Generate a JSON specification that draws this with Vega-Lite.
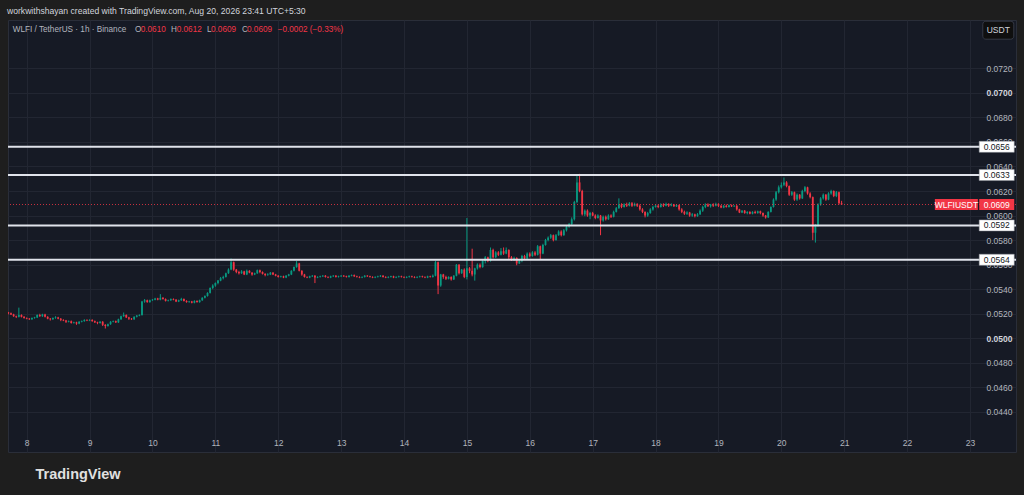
{
  "$schema": "https://vega.github.io/schema/vega-lite/v6.json",
  "width": 1008,
  "height": 432,
  "autosize": {"type": "none"},
  "padding": {"left": 8, "top": 20, "right": 8, "bottom": 43},
  "background": "#1e1e1e",
  "config": {
    "font": "Liberation Sans",
    "view": {"fill": "#161a25", "stroke": "#2a2e39"},
    "axis": {"labelFont": "Liberation Sans", "titleFont": "Liberation Sans"}
  },
  "title": {
    "text": "workwithshayan created with TradingView.com, Aug 20, 2026 23:41 UTC+5:30",
    "anchor": "start",
    "fontSize": 8.6,
    "fontWeight": "normal",
    "color": "#d1d4dc",
    "offset": 4
  },
  "resolve": {"axis": {"y": "independent"}},
  "datasets": {
    "candles": [
      {"t":-7,"o":0.0521,"h":0.05215,"l":0.05195,"c":0.05205},
      {"t":-6,"o":0.05205,"h":0.0521,"l":0.0519,"c":0.05195},
      {"t":-5,"o":0.05195,"h":0.052,"l":0.05175,"c":0.0518},
      {"t":-4,"o":0.0518,"h":0.05185,"l":0.05165,"c":0.05175},
      {"t":-3,"o":0.05175,"h":0.0525,"l":0.0517,"c":0.0519},
      {"t":-2,"o":0.0519,"h":0.05195,"l":0.0517,"c":0.05175},
      {"t":-1,"o":0.05175,"h":0.0518,"l":0.0516,"c":0.05165},
      {"t":0,"o":0.05165,"h":0.0517,"l":0.05155,"c":0.0516},
      {"t":1,"o":0.0516,"h":0.05165,"l":0.0515,"c":0.05155},
      {"t":2,"o":0.05155,"h":0.0517,"l":0.0515,"c":0.05165},
      {"t":3,"o":0.05165,"h":0.05175,"l":0.0516,"c":0.0517},
      {"t":4,"o":0.0517,"h":0.05195,"l":0.05165,"c":0.0519},
      {"t":5,"o":0.0519,"h":0.052,"l":0.05175,"c":0.0518},
      {"t":6,"o":0.0518,"h":0.052,"l":0.05175,"c":0.05195},
      {"t":7,"o":0.05195,"h":0.052,"l":0.0517,"c":0.05175},
      {"t":8,"o":0.05175,"h":0.0518,"l":0.05155,"c":0.0516},
      {"t":9,"o":0.0516,"h":0.05165,"l":0.05145,"c":0.05155},
      {"t":10,"o":0.05155,"h":0.0517,"l":0.0515,"c":0.05165},
      {"t":11,"o":0.05165,"h":0.0518,"l":0.0516,"c":0.0517},
      {"t":12,"o":0.0517,"h":0.05175,"l":0.05155,"c":0.0516},
      {"t":13,"o":0.0516,"h":0.05165,"l":0.0514,"c":0.0515},
      {"t":14,"o":0.0515,"h":0.05155,"l":0.0514,"c":0.05145},
      {"t":15,"o":0.05145,"h":0.0515,"l":0.05125,"c":0.05135},
      {"t":16,"o":0.05135,"h":0.05145,"l":0.0513,"c":0.0514},
      {"t":17,"o":0.0514,"h":0.05145,"l":0.0512,"c":0.05125},
      {"t":18,"o":0.05125,"h":0.05135,"l":0.0512,"c":0.0513},
      {"t":19,"o":0.0513,"h":0.05135,"l":0.0511,"c":0.0512},
      {"t":20,"o":0.0512,"h":0.0514,"l":0.05115,"c":0.05135},
      {"t":21,"o":0.05135,"h":0.05145,"l":0.0513,"c":0.0514},
      {"t":22,"o":0.0514,"h":0.05155,"l":0.05135,"c":0.0515},
      {"t":23,"o":0.0515,"h":0.05155,"l":0.0514,"c":0.05145},
      {"t":24,"o":0.05145,"h":0.05155,"l":0.0514,"c":0.0515},
      {"t":25,"o":0.0515,"h":0.05155,"l":0.05135,"c":0.0514},
      {"t":26,"o":0.0514,"h":0.05145,"l":0.05125,"c":0.0513},
      {"t":27,"o":0.0513,"h":0.05135,"l":0.05115,"c":0.05125},
      {"t":28,"o":0.05125,"h":0.0514,"l":0.0512,"c":0.05135},
      {"t":29,"o":0.05135,"h":0.0514,"l":0.051,"c":0.0511},
      {"t":30,"o":0.0511,"h":0.05115,"l":0.0508,"c":0.051},
      {"t":31,"o":0.051,"h":0.0512,"l":0.05095,"c":0.05115},
      {"t":32,"o":0.05115,"h":0.0514,"l":0.0511,"c":0.05135},
      {"t":33,"o":0.05135,"h":0.05145,"l":0.0513,"c":0.0514},
      {"t":34,"o":0.0514,"h":0.05145,"l":0.05125,"c":0.0513},
      {"t":35,"o":0.0513,"h":0.0516,"l":0.05125,"c":0.05155},
      {"t":36,"o":0.05155,"h":0.05185,"l":0.0515,"c":0.0518},
      {"t":37,"o":0.0518,"h":0.0521,"l":0.05175,"c":0.0519},
      {"t":38,"o":0.0519,"h":0.05195,"l":0.05165,"c":0.0517},
      {"t":39,"o":0.0517,"h":0.05175,"l":0.0515,"c":0.0516},
      {"t":40,"o":0.0516,"h":0.05165,"l":0.0515,"c":0.05155},
      {"t":41,"o":0.05155,"h":0.0518,"l":0.0515,"c":0.05175},
      {"t":42,"o":0.05175,"h":0.0519,"l":0.0517,"c":0.05185},
      {"t":43,"o":0.05185,"h":0.05195,"l":0.0518,"c":0.0519},
      {"t":44,"o":0.0519,"h":0.05305,"l":0.05185,"c":0.053},
      {"t":45,"o":0.053,"h":0.0532,"l":0.0529,"c":0.0531},
      {"t":46,"o":0.0531,"h":0.05315,"l":0.0529,"c":0.05295},
      {"t":47,"o":0.05295,"h":0.05315,"l":0.0529,"c":0.0531},
      {"t":48,"o":0.0531,"h":0.0532,"l":0.05305,"c":0.05315},
      {"t":49,"o":0.05315,"h":0.0533,"l":0.0531,"c":0.05325},
      {"t":50,"o":0.05325,"h":0.0533,"l":0.0531,"c":0.05315},
      {"t":51,"o":0.05315,"h":0.0536,"l":0.0531,"c":0.0533},
      {"t":52,"o":0.0533,"h":0.05335,"l":0.05315,"c":0.0532},
      {"t":53,"o":0.0532,"h":0.05325,"l":0.053,"c":0.05305},
      {"t":54,"o":0.05305,"h":0.05315,"l":0.053,"c":0.0531},
      {"t":55,"o":0.0531,"h":0.05325,"l":0.05305,"c":0.0532},
      {"t":56,"o":0.0532,"h":0.05325,"l":0.0531,"c":0.05315},
      {"t":57,"o":0.05315,"h":0.0532,"l":0.05295,"c":0.053},
      {"t":58,"o":0.053,"h":0.05315,"l":0.05295,"c":0.0531},
      {"t":59,"o":0.0531,"h":0.0533,"l":0.05305,"c":0.0532},
      {"t":60,"o":0.0532,"h":0.05325,"l":0.053,"c":0.05305},
      {"t":61,"o":0.05305,"h":0.0531,"l":0.0529,"c":0.05295},
      {"t":62,"o":0.05295,"h":0.05305,"l":0.0529,"c":0.053},
      {"t":63,"o":0.053,"h":0.05305,"l":0.05285,"c":0.0529},
      {"t":64,"o":0.0529,"h":0.0531,"l":0.05285,"c":0.05305},
      {"t":65,"o":0.05305,"h":0.0531,"l":0.0529,"c":0.05295},
      {"t":66,"o":0.05295,"h":0.05315,"l":0.0529,"c":0.0531},
      {"t":67,"o":0.0531,"h":0.05335,"l":0.05305,"c":0.0533},
      {"t":68,"o":0.0533,"h":0.0535,"l":0.05325,"c":0.05345},
      {"t":69,"o":0.05345,"h":0.05375,"l":0.0534,"c":0.0537},
      {"t":70,"o":0.0537,"h":0.05415,"l":0.05365,"c":0.0541},
      {"t":71,"o":0.0541,"h":0.0544,"l":0.054,"c":0.0543},
      {"t":72,"o":0.0543,"h":0.05455,"l":0.0542,"c":0.0545},
      {"t":73,"o":0.0545,"h":0.05475,"l":0.0544,"c":0.0547},
      {"t":74,"o":0.0547,"h":0.055,"l":0.05465,"c":0.0549},
      {"t":75,"o":0.0549,"h":0.0551,"l":0.0548,"c":0.055},
      {"t":76,"o":0.055,"h":0.05535,"l":0.05495,"c":0.0553},
      {"t":77,"o":0.0553,"h":0.0557,"l":0.05525,"c":0.0556},
      {"t":78,"o":0.0556,"h":0.0565,"l":0.05555,"c":0.0562},
      {"t":79,"o":0.0562,"h":0.05625,"l":0.0555,"c":0.0556},
      {"t":80,"o":0.0556,"h":0.05565,"l":0.0553,"c":0.0554},
      {"t":81,"o":0.0554,"h":0.0555,"l":0.0552,"c":0.0553},
      {"t":82,"o":0.0553,"h":0.05555,"l":0.05525,"c":0.05545},
      {"t":83,"o":0.05545,"h":0.0555,"l":0.05515,"c":0.0552},
      {"t":84,"o":0.0552,"h":0.0556,"l":0.05515,"c":0.0555},
      {"t":85,"o":0.0555,"h":0.05555,"l":0.0553,"c":0.05535},
      {"t":86,"o":0.05535,"h":0.0554,"l":0.0551,"c":0.0552},
      {"t":87,"o":0.0552,"h":0.05535,"l":0.05515,"c":0.0553},
      {"t":88,"o":0.0553,"h":0.0556,"l":0.05525,"c":0.05555},
      {"t":89,"o":0.05555,"h":0.0556,"l":0.0553,"c":0.0554},
      {"t":90,"o":0.0554,"h":0.05545,"l":0.0552,"c":0.05525},
      {"t":91,"o":0.05525,"h":0.0553,"l":0.05505,"c":0.05515},
      {"t":92,"o":0.05515,"h":0.0553,"l":0.0551,"c":0.0552},
      {"t":93,"o":0.0552,"h":0.0554,"l":0.05515,"c":0.05535},
      {"t":94,"o":0.05535,"h":0.0554,"l":0.05515,"c":0.0552},
      {"t":95,"o":0.0552,"h":0.05525,"l":0.05505,"c":0.0551},
      {"t":96,"o":0.0551,"h":0.05515,"l":0.05495,"c":0.055},
      {"t":97,"o":0.055,"h":0.0551,"l":0.05495,"c":0.05505},
      {"t":98,"o":0.05505,"h":0.0551,"l":0.0549,"c":0.05495},
      {"t":99,"o":0.05495,"h":0.05515,"l":0.0549,"c":0.0551},
      {"t":100,"o":0.0551,"h":0.05525,"l":0.05505,"c":0.0552},
      {"t":101,"o":0.0552,"h":0.05555,"l":0.05515,"c":0.0555},
      {"t":102,"o":0.0555,"h":0.05585,"l":0.05545,"c":0.0558},
      {"t":103,"o":0.0558,"h":0.0563,"l":0.05575,"c":0.0561},
      {"t":104,"o":0.0561,"h":0.05615,"l":0.05545,"c":0.0555},
      {"t":105,"o":0.0555,"h":0.05555,"l":0.0551,"c":0.0552},
      {"t":106,"o":0.0552,"h":0.05525,"l":0.05495,"c":0.055},
      {"t":107,"o":0.055,"h":0.05505,"l":0.0549,"c":0.05495},
      {"t":108,"o":0.05495,"h":0.0551,"l":0.0549,"c":0.05505},
      {"t":109,"o":0.05505,"h":0.05515,"l":0.055,"c":0.0551},
      {"t":110,"o":0.0551,"h":0.05515,"l":0.0545,"c":0.05495},
      {"t":111,"o":0.05495,"h":0.05505,"l":0.0549,"c":0.055},
      {"t":112,"o":0.055,"h":0.0551,"l":0.05495,"c":0.05505},
      {"t":113,"o":0.05505,"h":0.05515,"l":0.055,"c":0.0551},
      {"t":114,"o":0.0551,"h":0.05515,"l":0.05495,"c":0.055},
      {"t":115,"o":0.055,"h":0.05505,"l":0.0549,"c":0.05495},
      {"t":116,"o":0.05495,"h":0.0551,"l":0.0549,"c":0.05505},
      {"t":117,"o":0.05505,"h":0.05515,"l":0.055,"c":0.0551},
      {"t":118,"o":0.0551,"h":0.05515,"l":0.05495,"c":0.055},
      {"t":119,"o":0.055,"h":0.0551,"l":0.05495,"c":0.05505},
      {"t":120,"o":0.05505,"h":0.05515,"l":0.055,"c":0.0551},
      {"t":121,"o":0.0551,"h":0.05515,"l":0.055,"c":0.05505},
      {"t":122,"o":0.05505,"h":0.0551,"l":0.05495,"c":0.055},
      {"t":123,"o":0.055,"h":0.05515,"l":0.05495,"c":0.0551},
      {"t":124,"o":0.0551,"h":0.0552,"l":0.05505,"c":0.05515},
      {"t":125,"o":0.05515,"h":0.0552,"l":0.055,"c":0.05505},
      {"t":126,"o":0.05505,"h":0.0551,"l":0.05495,"c":0.055},
      {"t":127,"o":0.055,"h":0.05505,"l":0.0549,"c":0.05495},
      {"t":128,"o":0.05495,"h":0.05505,"l":0.0549,"c":0.055},
      {"t":129,"o":0.055,"h":0.05515,"l":0.05495,"c":0.0551},
      {"t":130,"o":0.0551,"h":0.05515,"l":0.055,"c":0.05505},
      {"t":131,"o":0.05505,"h":0.0551,"l":0.05495,"c":0.055},
      {"t":132,"o":0.055,"h":0.05505,"l":0.0549,"c":0.05495},
      {"t":133,"o":0.05495,"h":0.05505,"l":0.0549,"c":0.055},
      {"t":134,"o":0.055,"h":0.0551,"l":0.05495,"c":0.05505},
      {"t":135,"o":0.05505,"h":0.05515,"l":0.055,"c":0.0551},
      {"t":136,"o":0.0551,"h":0.05515,"l":0.05495,"c":0.055},
      {"t":137,"o":0.055,"h":0.05505,"l":0.0549,"c":0.05495},
      {"t":138,"o":0.05495,"h":0.05505,"l":0.0549,"c":0.055},
      {"t":139,"o":0.055,"h":0.0551,"l":0.05495,"c":0.05505},
      {"t":140,"o":0.05505,"h":0.0551,"l":0.0549,"c":0.05495},
      {"t":141,"o":0.05495,"h":0.05505,"l":0.0549,"c":0.055},
      {"t":142,"o":0.055,"h":0.0551,"l":0.05495,"c":0.05505},
      {"t":143,"o":0.05505,"h":0.0551,"l":0.05495,"c":0.055},
      {"t":144,"o":0.055,"h":0.05505,"l":0.0549,"c":0.05495},
      {"t":145,"o":0.05495,"h":0.05505,"l":0.0549,"c":0.055},
      {"t":146,"o":0.055,"h":0.0551,"l":0.05495,"c":0.05505},
      {"t":147,"o":0.05505,"h":0.0551,"l":0.05495,"c":0.055},
      {"t":148,"o":0.055,"h":0.05505,"l":0.0549,"c":0.05495},
      {"t":149,"o":0.05495,"h":0.05505,"l":0.0549,"c":0.055},
      {"t":150,"o":0.055,"h":0.0551,"l":0.05495,"c":0.05505},
      {"t":151,"o":0.05505,"h":0.0551,"l":0.05495,"c":0.055},
      {"t":152,"o":0.055,"h":0.05505,"l":0.0549,"c":0.05495},
      {"t":153,"o":0.05495,"h":0.0551,"l":0.0549,"c":0.05505},
      {"t":154,"o":0.05505,"h":0.0551,"l":0.05495,"c":0.055},
      {"t":155,"o":0.055,"h":0.0552,"l":0.05495,"c":0.0551},
      {"t":156,"o":0.0551,"h":0.0563,"l":0.05505,"c":0.0562},
      {"t":157,"o":0.0562,"h":0.05625,"l":0.0536,"c":0.0543},
      {"t":158,"o":0.0543,"h":0.05525,"l":0.0542,"c":0.0552},
      {"t":159,"o":0.0552,"h":0.05525,"l":0.05485,"c":0.055},
      {"t":160,"o":0.055,"h":0.0551,"l":0.05475,"c":0.05485},
      {"t":161,"o":0.05485,"h":0.05505,"l":0.0548,"c":0.055},
      {"t":162,"o":0.055,"h":0.05505,"l":0.0547,"c":0.0548},
      {"t":163,"o":0.0548,"h":0.05515,"l":0.05475,"c":0.0551},
      {"t":164,"o":0.0551,"h":0.05605,"l":0.05505,"c":0.056},
      {"t":165,"o":0.056,"h":0.05605,"l":0.0552,"c":0.0553},
      {"t":166,"o":0.0553,"h":0.05565,"l":0.05525,"c":0.0556},
      {"t":167,"o":0.0556,"h":0.0557,"l":0.0549,"c":0.055},
      {"t":168,"o":0.055,"h":0.0598,"l":0.0548,"c":0.0557},
      {"t":169,"o":0.0557,"h":0.0558,"l":0.0553,"c":0.0555},
      {"t":170,"o":0.0555,"h":0.0573,"l":0.05505,"c":0.0552},
      {"t":171,"o":0.0552,"h":0.05575,"l":0.0547,"c":0.0557},
      {"t":172,"o":0.0557,"h":0.0561,"l":0.0556,"c":0.056},
      {"t":173,"o":0.056,"h":0.0561,"l":0.0557,"c":0.0558},
      {"t":174,"o":0.0558,"h":0.0564,"l":0.05575,"c":0.0563},
      {"t":175,"o":0.0563,"h":0.0567,"l":0.0561,"c":0.0566},
      {"t":176,"o":0.0566,"h":0.05665,"l":0.0562,"c":0.0563},
      {"t":177,"o":0.0563,"h":0.0574,"l":0.05625,"c":0.0572},
      {"t":178,"o":0.0572,"h":0.0573,"l":0.0565,"c":0.0566},
      {"t":179,"o":0.0566,"h":0.0571,"l":0.05655,"c":0.057},
      {"t":180,"o":0.057,"h":0.0571,"l":0.0567,"c":0.0568},
      {"t":181,"o":0.0568,"h":0.05735,"l":0.05675,"c":0.0571},
      {"t":182,"o":0.0571,"h":0.0574,"l":0.0568,"c":0.0569},
      {"t":183,"o":0.0569,"h":0.0574,"l":0.05685,"c":0.0572},
      {"t":184,"o":0.0572,"h":0.05725,"l":0.0564,"c":0.0566},
      {"t":185,"o":0.0566,"h":0.0567,"l":0.0563,"c":0.0564},
      {"t":186,"o":0.0564,"h":0.05665,"l":0.0563,"c":0.05655},
      {"t":187,"o":0.05655,"h":0.0566,"l":0.05595,"c":0.0561},
      {"t":188,"o":0.0561,"h":0.0564,"l":0.05605,"c":0.0563},
      {"t":189,"o":0.0563,"h":0.0568,"l":0.0562,"c":0.0567},
      {"t":190,"o":0.0567,"h":0.0568,"l":0.0564,"c":0.0565},
      {"t":191,"o":0.0565,"h":0.057,"l":0.05645,"c":0.0569},
      {"t":192,"o":0.0569,"h":0.057,"l":0.0566,"c":0.0567},
      {"t":193,"o":0.0567,"h":0.0571,"l":0.05665,"c":0.057},
      {"t":194,"o":0.057,"h":0.0571,"l":0.0567,"c":0.0568},
      {"t":195,"o":0.0568,"h":0.0576,"l":0.05675,"c":0.0575},
      {"t":196,"o":0.0575,"h":0.05755,"l":0.0564,"c":0.0569},
      {"t":197,"o":0.0569,"h":0.0577,"l":0.05685,"c":0.0576},
      {"t":198,"o":0.0576,"h":0.0581,"l":0.05755,"c":0.058},
      {"t":199,"o":0.058,"h":0.0583,"l":0.0579,"c":0.0582},
      {"t":200,"o":0.0582,"h":0.0585,"l":0.0581,"c":0.0584},
      {"t":201,"o":0.0584,"h":0.05845,"l":0.0579,"c":0.058},
      {"t":202,"o":0.058,"h":0.0585,"l":0.05795,"c":0.0584},
      {"t":203,"o":0.0584,"h":0.0588,"l":0.05835,"c":0.0587},
      {"t":204,"o":0.0587,"h":0.0588,"l":0.0583,"c":0.0584},
      {"t":205,"o":0.0584,"h":0.0589,"l":0.05835,"c":0.0588},
      {"t":206,"o":0.0588,"h":0.0592,"l":0.0587,"c":0.0591},
      {"t":207,"o":0.0591,"h":0.0594,"l":0.059,"c":0.0593},
      {"t":208,"o":0.0593,"h":0.05985,"l":0.0592,"c":0.0597},
      {"t":209,"o":0.0597,"h":0.0612,"l":0.0596,"c":0.0611},
      {"t":210,"o":0.0611,"h":0.0633,"l":0.061,"c":0.0627},
      {"t":211,"o":0.0627,"h":0.0634,"l":0.0619,"c":0.062},
      {"t":212,"o":0.062,"h":0.0621,"l":0.06,"c":0.0601},
      {"t":213,"o":0.0601,"h":0.0605,"l":0.05995,"c":0.0604},
      {"t":214,"o":0.0604,"h":0.0605,"l":0.0599,"c":0.06},
      {"t":215,"o":0.06,"h":0.0603,"l":0.0597,"c":0.0602},
      {"t":216,"o":0.0602,"h":0.0603,"l":0.05995,"c":0.06},
      {"t":217,"o":0.06,"h":0.0601,"l":0.0597,"c":0.0598},
      {"t":218,"o":0.0598,"h":0.0601,"l":0.05975,"c":0.06},
      {"t":219,"o":0.06,"h":0.06005,"l":0.0584,"c":0.0596},
      {"t":220,"o":0.0596,"h":0.06,"l":0.0595,"c":0.0599},
      {"t":221,"o":0.0599,"h":0.06,"l":0.0596,"c":0.0597},
      {"t":222,"o":0.0597,"h":0.0601,"l":0.05965,"c":0.06},
      {"t":223,"o":0.06,"h":0.0601,"l":0.0598,"c":0.0599},
      {"t":224,"o":0.0599,"h":0.0604,"l":0.05985,"c":0.0603},
      {"t":225,"o":0.0603,"h":0.0607,"l":0.06025,"c":0.0606},
      {"t":226,"o":0.0606,"h":0.0614,"l":0.06055,"c":0.0609},
      {"t":227,"o":0.0609,"h":0.061,"l":0.0606,"c":0.0607},
      {"t":228,"o":0.0607,"h":0.061,"l":0.06065,"c":0.0609},
      {"t":229,"o":0.0609,"h":0.06105,"l":0.0607,"c":0.0608},
      {"t":230,"o":0.0608,"h":0.0611,"l":0.06075,"c":0.061},
      {"t":231,"o":0.061,"h":0.0611,"l":0.0607,"c":0.0608},
      {"t":232,"o":0.0608,"h":0.06105,"l":0.06075,"c":0.06095},
      {"t":233,"o":0.06095,"h":0.061,"l":0.0607,"c":0.0608},
      {"t":234,"o":0.0608,"h":0.0609,"l":0.0604,"c":0.0605},
      {"t":235,"o":0.0605,"h":0.0606,"l":0.0602,"c":0.0603},
      {"t":236,"o":0.0603,"h":0.06035,"l":0.05985,"c":0.06},
      {"t":237,"o":0.06,"h":0.0603,"l":0.0599,"c":0.0602},
      {"t":238,"o":0.0602,"h":0.0606,"l":0.06015,"c":0.0605},
      {"t":239,"o":0.0605,"h":0.0608,"l":0.0604,"c":0.0607},
      {"t":240,"o":0.0607,"h":0.0609,"l":0.06065,"c":0.0608},
      {"t":241,"o":0.0608,"h":0.0609,"l":0.0606,"c":0.0607},
      {"t":242,"o":0.0607,"h":0.061,"l":0.06065,"c":0.0609},
      {"t":243,"o":0.0609,"h":0.061,"l":0.0607,"c":0.0608},
      {"t":244,"o":0.0608,"h":0.06105,"l":0.06075,"c":0.06095},
      {"t":245,"o":0.06095,"h":0.061,"l":0.0607,"c":0.0608},
      {"t":246,"o":0.0608,"h":0.061,"l":0.06075,"c":0.0609},
      {"t":247,"o":0.0609,"h":0.06095,"l":0.0607,"c":0.06075},
      {"t":248,"o":0.06075,"h":0.0609,"l":0.0607,"c":0.06085},
      {"t":249,"o":0.06085,"h":0.0609,"l":0.0604,"c":0.0605},
      {"t":250,"o":0.0605,"h":0.0606,"l":0.0602,"c":0.0603},
      {"t":251,"o":0.0603,"h":0.0604,"l":0.06005,"c":0.06015},
      {"t":252,"o":0.06015,"h":0.06035,"l":0.06005,"c":0.06025},
      {"t":253,"o":0.06025,"h":0.0603,"l":0.0599,"c":0.06},
      {"t":254,"o":0.06,"h":0.0602,"l":0.0599,"c":0.0601},
      {"t":255,"o":0.0601,"h":0.06015,"l":0.05985,"c":0.05995},
      {"t":256,"o":0.05995,"h":0.0602,"l":0.0599,"c":0.0601},
      {"t":257,"o":0.0601,"h":0.0605,"l":0.06005,"c":0.0604},
      {"t":258,"o":0.0604,"h":0.0608,"l":0.0603,"c":0.0607},
      {"t":259,"o":0.0607,"h":0.061,"l":0.0606,"c":0.0609},
      {"t":260,"o":0.0609,"h":0.061,"l":0.0607,"c":0.06075},
      {"t":261,"o":0.06075,"h":0.06095,"l":0.06065,"c":0.0609},
      {"t":262,"o":0.0609,"h":0.061,"l":0.0607,"c":0.0608},
      {"t":263,"o":0.0608,"h":0.06105,"l":0.06075,"c":0.06095},
      {"t":264,"o":0.06095,"h":0.061,"l":0.0607,"c":0.0608},
      {"t":265,"o":0.0608,"h":0.06085,"l":0.0606,"c":0.06065},
      {"t":266,"o":0.06065,"h":0.06085,"l":0.0606,"c":0.0608},
      {"t":267,"o":0.0608,"h":0.0609,"l":0.06065,"c":0.0607},
      {"t":268,"o":0.0607,"h":0.0609,"l":0.06065,"c":0.06085},
      {"t":269,"o":0.06085,"h":0.0609,"l":0.0607,"c":0.06075},
      {"t":270,"o":0.06075,"h":0.06085,"l":0.0607,"c":0.0608},
      {"t":271,"o":0.0608,"h":0.06085,"l":0.0604,"c":0.0605},
      {"t":272,"o":0.0605,"h":0.06055,"l":0.0602,"c":0.06025},
      {"t":273,"o":0.06025,"h":0.06045,"l":0.0602,"c":0.0604},
      {"t":274,"o":0.0604,"h":0.06045,"l":0.06015,"c":0.0602},
      {"t":275,"o":0.0602,"h":0.06035,"l":0.0601,"c":0.0603},
      {"t":276,"o":0.0603,"h":0.06035,"l":0.0601,"c":0.06015},
      {"t":277,"o":0.06015,"h":0.06035,"l":0.0601,"c":0.0603},
      {"t":278,"o":0.0603,"h":0.0604,"l":0.06015,"c":0.0602},
      {"t":279,"o":0.0602,"h":0.0604,"l":0.06015,"c":0.06035},
      {"t":280,"o":0.06035,"h":0.0604,"l":0.0601,"c":0.0602},
      {"t":281,"o":0.0602,"h":0.06025,"l":0.0599,"c":0.06},
      {"t":282,"o":0.06,"h":0.06005,"l":0.05975,"c":0.05985},
      {"t":283,"o":0.05985,"h":0.06035,"l":0.0598,"c":0.0603},
      {"t":284,"o":0.0603,"h":0.06075,"l":0.06025,"c":0.0607},
      {"t":285,"o":0.0607,"h":0.0614,"l":0.06065,"c":0.0613},
      {"t":286,"o":0.0613,"h":0.062,"l":0.0612,"c":0.0619},
      {"t":287,"o":0.0619,"h":0.06245,"l":0.0618,"c":0.0623},
      {"t":288,"o":0.0623,"h":0.0627,"l":0.0622,"c":0.0625},
      {"t":289,"o":0.0625,"h":0.0631,"l":0.0624,"c":0.0627},
      {"t":290,"o":0.0627,"h":0.0628,"l":0.0623,"c":0.0624},
      {"t":291,"o":0.0624,"h":0.06245,"l":0.0616,"c":0.0617},
      {"t":292,"o":0.0617,"h":0.062,"l":0.0616,"c":0.0619},
      {"t":293,"o":0.0619,"h":0.06195,"l":0.0612,"c":0.0613},
      {"t":294,"o":0.0613,"h":0.0618,"l":0.0612,"c":0.0617},
      {"t":295,"o":0.0617,"h":0.06175,"l":0.0613,"c":0.0614},
      {"t":296,"o":0.0614,"h":0.0621,"l":0.06135,"c":0.062},
      {"t":297,"o":0.062,"h":0.0624,"l":0.0619,"c":0.0623},
      {"t":298,"o":0.0623,"h":0.06235,"l":0.0617,"c":0.0618},
      {"t":299,"o":0.0618,"h":0.0619,"l":0.0614,"c":0.0615},
      {"t":300,"o":0.0615,"h":0.06155,"l":0.058,"c":0.0586},
      {"t":301,"o":0.0586,"h":0.0593,"l":0.0578,"c":0.0592},
      {"t":302,"o":0.0592,"h":0.061,"l":0.0591,"c":0.0609},
      {"t":303,"o":0.0609,"h":0.0615,"l":0.0608,"c":0.0614},
      {"t":304,"o":0.0614,"h":0.0618,"l":0.0613,"c":0.0617},
      {"t":305,"o":0.0617,"h":0.06175,"l":0.0612,"c":0.0613},
      {"t":306,"o":0.0613,"h":0.0619,"l":0.06125,"c":0.0618},
      {"t":307,"o":0.0618,"h":0.0621,"l":0.0617,"c":0.062},
      {"t":308,"o":0.062,"h":0.06205,"l":0.0615,"c":0.0616},
      {"t":309,"o":0.0616,"h":0.062,"l":0.0615,"c":0.0619},
      {"t":310,"o":0.0619,"h":0.06195,"l":0.0609,"c":0.061},
      {"t":311,"o":0.061,"h":0.0612,"l":0.0609,"c":0.0609}
    ],
    "levels": [{"p": 0.0656}, {"p": 0.0633}, {"p": 0.0592}, {"p": 0.0564}],
    "last": [{"symbol": "WLFIUSDT", "o": 0.061, "h": 0.0612, "l": 0.0609, "c": 0.0609}]
  },
  "layer": [
    {
      "data": {"name": "candles"},
      "mark": {"type": "rule", "strokeWidth": 1, "clip": true},
      "encoding": {
        "x": {
          "field": "t",
          "type": "quantitative",
          "scale": {"domain": [-7.14, 377.56], "nice": false, "zero": false, "padding": 0},
          "axis": {
            "orient": "bottom",
            "offset": -16,
            "values": [0, 24, 48, 72, 96, 120, 144, 168, 192, 216, 240, 264, 288, 312, 336, 360],
            "labelExpr": "format(datum.value / 24 + 8, 'd')",
            "grid": true,
            "gridColor": "#222632",
            "domain": false,
            "ticks": false,
            "labelColor": "#b2b5be",
            "labelFontSize": 8.5,
            "labelPadding": 2,
            "labelFlush": false,
            "labelOverlap": false,
            "title": "TradingView",
            "titleX": 27,
            "titleY": 38,
            "titleAlign": "left",
            "titleBaseline": "middle",
            "titleFontSize": 14.5,
            "titleFontWeight": "bold",
            "titleColor": "#e0e0e0"
          }
        },
        "y": {
          "field": "l",
          "type": "quantitative",
          "scale": {"domain": [0.04074, 0.07593], "nice": false, "zero": false, "padding": 0},
          "axis": {
            "orient": "right",
            "offset": -34,
            "values": [0.044, 0.046, 0.048, 0.05, 0.052, 0.054, 0.056, 0.058, 0.06, 0.062, 0.064, 0.066, 0.068, 0.07, 0.072],
            "format": ".4f",
            "grid": true,
            "gridColor": "#222632",
            "domain": false,
            "ticks": false,
            "labelColor": {"condition": {"test": "abs(datum.value - 0.05) < 0.00001 || abs(datum.value - 0.07) < 0.00001", "value": "#d1d4dc"}, "value": "#b2b5be"},
            "labelFontWeight": {"condition": {"test": "abs(datum.value - 0.05) < 0.00001 || abs(datum.value - 0.07) < 0.00001", "value": "bold"}, "value": "normal"},
            "labelFontSize": 8.5,
            "labelPadding": 4,
            "labelOverlap": false,
            "labelBound": false,
            "title": null
          }
        },
        "y2": {"field": "h"},
        "color": {"condition": {"test": "datum.c >= datum.o", "value": "#089981"}, "value": "#f23645"}
      }
    },
    {
      "data": {"name": "candles"},
      "mark": {"type": "bar", "width": 1.8, "clip": true},
      "encoding": {
        "x": {"field": "t", "type": "quantitative"},
        "y": {"field": "o", "type": "quantitative", "axis": null},
        "y2": {"field": "c"},
        "color": {"condition": {"test": "datum.c >= datum.o", "value": "#089981"}, "value": "#f23645"}
      }
    },
    {
      "data": {"name": "last"},
      "mark": {"type": "rule", "color": "#f23645", "strokeDash": [1, 2], "strokeWidth": 1, "opacity": 0.8},
      "encoding": {"y": {"field": "c", "type": "quantitative", "axis": null}}
    },
    {
      "data": {"name": "levels"},
      "mark": {"type": "rule", "color": "#e0e3eb", "strokeWidth": 2},
      "encoding": {"y": {"field": "p", "type": "quantitative", "axis": null}}
    },
    {
      "data": {"name": "levels"},
      "mark": {"type": "tick", "orient": "horizontal", "size": 35, "thickness": 11, "opacity": 1, "color": "#ffffff", "stroke": "#9598a1", "strokeWidth": 0.5},
      "encoding": {"x": {"datum": 370.2}, "y": {"field": "p", "type": "quantitative", "axis": null}}
    },
    {
      "data": {"name": "levels"},
      "mark": {"type": "text", "fontSize": 8.5, "color": "#131722", "align": "center", "baseline": "middle"},
      "encoding": {"x": {"datum": 370.2}, "y": {"field": "p", "type": "quantitative", "axis": null}, "text": {"field": "p", "type": "quantitative", "format": ".4f"}}
    },
    {
      "data": {"name": "last"},
      "mark": {"type": "tick", "orient": "horizontal", "size": 43, "thickness": 11, "opacity": 1, "color": "#f23645"},
      "encoding": {"x": {"datum": 354.8}, "y": {"field": "c", "type": "quantitative", "axis": null}}
    },
    {
      "data": {"name": "last"},
      "mark": {"type": "tick", "orient": "horizontal", "size": 35, "thickness": 11, "opacity": 1, "color": "#f23645"},
      "encoding": {"x": {"datum": 370.2}, "y": {"field": "c", "type": "quantitative", "axis": null}}
    },
    {
      "data": {"name": "last"},
      "mark": {"type": "text", "fontSize": 8.5, "color": "#ffffff", "align": "center", "baseline": "middle"},
      "encoding": {"x": {"datum": 354.8}, "y": {"field": "c", "type": "quantitative", "axis": null}, "text": {"field": "symbol"}}
    },
    {
      "data": {"name": "last"},
      "mark": {"type": "text", "fontSize": 8.5, "color": "#ffffff", "align": "center", "baseline": "middle"},
      "encoding": {"x": {"datum": 370.2}, "y": {"field": "c", "type": "quantitative", "axis": null}, "text": {"field": "c", "type": "quantitative", "format": ".4f"}}
    },
    {
      "data": {"name": "last"},
      "mark": {"type": "tick", "orient": "horizontal", "size": 31, "thickness": 18, "opacity": 1, "color": "#0f0f0f", "stroke": "#363a45", "strokeWidth": 1, "cornerRadius": 3},
      "encoding": {"x": {"datum": 370.8}, "y": {"datum": 0.0751, "axis": null}}
    },
    {
      "data": {"name": "last"},
      "mark": {"type": "text", "text": "USDT", "fontSize": 8.5, "color": "#d1d4dc", "align": "center", "baseline": "middle"},
      "encoding": {"x": {"datum": 370.8}, "y": {"datum": 0.0751, "axis": null}}
    },
    {
      "data": {"name": "last"},
      "mark": {"type": "text", "text": "WLFI / TetherUS · 1h · Binance", "fontSize": 8.2, "color": "#b2b5be", "align": "left", "baseline": "middle"},
      "encoding": {"x": {"datum": -5.34}, "y": {"datum": 0.0751, "axis": null}}
    },
    {
      "data": {"name": "last"},
      "mark": {"type": "text", "text": "O", "fontSize": 8.2, "color": "#b2b5be", "align": "left", "baseline": "middle"},
      "encoding": {"x": {"datum": 41.33}, "y": {"datum": 0.0751, "axis": null}}
    },
    {
      "data": {"name": "last"},
      "mark": {"type": "text", "fontSize": 8.2, "color": "#f23645", "align": "left", "baseline": "middle"},
      "encoding": {"x": {"datum": 43.51}, "y": {"datum": 0.0751, "axis": null}, "text": {"field": "o", "type": "quantitative", "format": ".4f"}}
    },
    {
      "data": {"name": "last"},
      "mark": {"type": "text", "text": "H", "fontSize": 8.2, "color": "#b2b5be", "align": "left", "baseline": "middle"},
      "encoding": {"x": {"datum": 55.07}, "y": {"datum": 0.0751, "axis": null}}
    },
    {
      "data": {"name": "last"},
      "mark": {"type": "text", "fontSize": 8.2, "color": "#f23645", "align": "left", "baseline": "middle"},
      "encoding": {"x": {"datum": 57.25}, "y": {"datum": 0.0751, "axis": null}, "text": {"field": "h", "type": "quantitative", "format": ".4f"}}
    },
    {
      "data": {"name": "last"},
      "mark": {"type": "text", "text": "L", "fontSize": 8.2, "color": "#b2b5be", "align": "left", "baseline": "middle"},
      "encoding": {"x": {"datum": 68.81}, "y": {"datum": 0.0751, "axis": null}}
    },
    {
      "data": {"name": "last"},
      "mark": {"type": "text", "fontSize": 8.2, "color": "#f23645", "align": "left", "baseline": "middle"},
      "encoding": {"x": {"datum": 70.34}, "y": {"datum": 0.0751, "axis": null}, "text": {"field": "l", "type": "quantitative", "format": ".4f"}}
    },
    {
      "data": {"name": "last"},
      "mark": {"type": "text", "text": "C", "fontSize": 8.2, "color": "#b2b5be", "align": "left", "baseline": "middle"},
      "encoding": {"x": {"datum": 82.17}, "y": {"datum": 0.0751, "axis": null}}
    },
    {
      "data": {"name": "last"},
      "mark": {"type": "text", "fontSize": 8.2, "color": "#f23645", "align": "left", "baseline": "middle"},
      "encoding": {"x": {"datum": 84.08}, "y": {"datum": 0.0751, "axis": null}, "text": {"field": "c", "type": "quantitative", "format": ".4f"}}
    },
    {
      "data": {"name": "last"},
      "mark": {"type": "text", "text": "−0.0002 (−0.33%)", "fontSize": 8.2, "color": "#f23645", "align": "left", "baseline": "middle"},
      "encoding": {"x": {"datum": 95.79}, "y": {"datum": 0.0751, "axis": null}}
    }
  ]
}
